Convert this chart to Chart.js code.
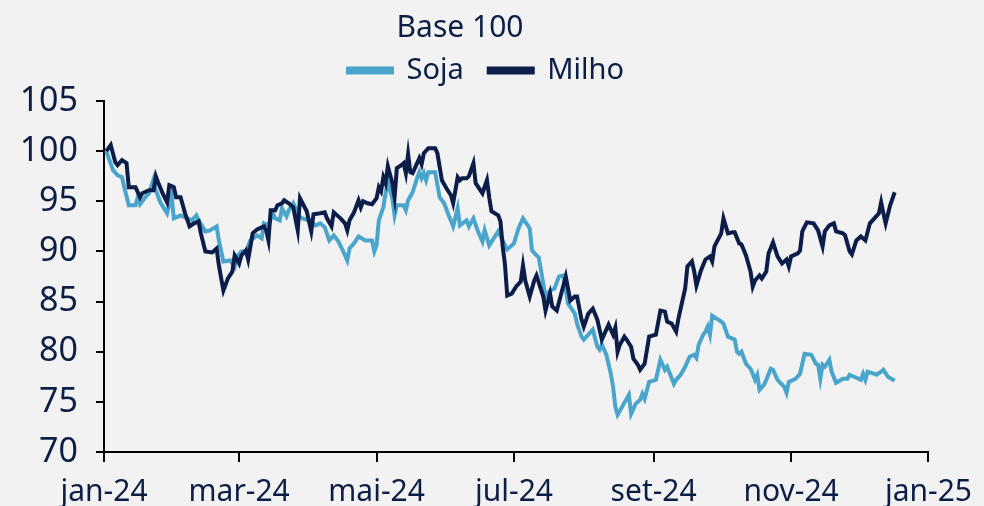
<!DOCTYPE html>
<html lang="pt-BR">
<head>
<meta charset="utf-8">
<script src="https://cdn.jsdelivr.net/npm/chart.js@4.4.1/dist/chart.umd.min.js"></script>
<style>
  html, body { margin: 0; padding: 0; background: #f2f2f2; }
  #caixa { width: 984px; height: 506px; }
</style>
</head>
<body>
<div id="caixa"><canvas id="grafico" width="984" height="506"></canvas></div>
<script>
// dias contados a partir de 01/01/2024
const tickDias = [0, 60, 121, 182, 244, 305, 366];
const tickRotulos = ['jan-24', 'mar-24', 'mai-24', 'jul-24', 'set-24', 'nov-24', 'jan-25'];

const sojaDias = [
  1, 4, 6, 8, 9, 11, 14, 15, 16, 18,
  20, 22, 23, 25, 28, 30, 31, 34, 37, 39,
  41, 42, 45, 47, 50, 51, 53, 56, 58, 59,
  61, 63, 65, 68, 70, 71, 73, 75, 76, 78,
  79, 81, 82, 84, 85, 86, 88, 91, 94, 96,
  98, 100, 102, 104, 106, 108, 109, 111, 113, 116,
  118, 119, 120, 121, 122, 124, 125, 126, 128, 129,
  130, 133, 134, 135, 137, 139, 140, 141, 142, 143,
  144, 147, 149, 151, 153, 155, 157, 158, 161, 162,
  164, 166, 168, 169, 171, 173, 175, 178, 179, 182,
  184, 186, 189, 190, 192, 193, 195, 196, 198, 200,
  202, 204, 206, 209, 210, 212, 213, 215, 217, 219,
  220, 221, 223, 225, 226, 227, 228, 230, 233, 234,
  236, 238, 239, 240, 242, 245, 247, 249, 250, 253,
  254, 256, 258, 260, 262, 263, 264, 266, 267, 268,
  269, 270, 272, 274, 275, 277, 280, 281, 282, 283,
  285, 287, 288, 289, 290, 291, 293, 294, 296, 297,
  299, 302, 303, 304, 307, 309, 311, 314, 316, 317,
  318, 319, 320, 322, 323, 325, 328, 330, 331, 333,
  336, 337, 338, 339, 342, 343, 345, 346, 348, 351
];
const sojaValores = [
  100.0, 98.1, 97.6, 97.4, 96.4, 94.6, 94.6, 95.4, 94.7, 95.3,
  95.8, 97.2, 96.1, 94.9, 93.8, 95.6, 93.3, 93.6, 93.3, 93.1,
  93.6, 93.1, 92.0, 92.1, 92.5, 91.1, 89.0, 89.1, 88.5, 89.5,
  90.0, 90.0, 91.1, 91.6, 91.3, 92.8, 92.6, 93.8, 93.3, 93.1,
  94.3, 93.5, 94.1, 94.8, 94.3, 93.6, 93.3, 93.1, 92.6, 92.8,
  92.4, 91.1, 91.6, 91.0, 90.1, 89.1, 90.3, 90.8, 91.5, 91.1,
  91.1, 91.1, 90.0, 90.6, 93.1, 94.4, 95.8, 96.9, 95.3, 93.6,
  94.6, 94.6, 94.1, 95.1, 95.9, 97.3, 97.9, 97.3, 97.8, 97.1,
  97.9, 97.9, 95.4, 94.8, 93.6, 92.5, 94.3, 92.6, 93.1, 92.5,
  93.3, 92.0, 91.0, 92.1, 90.6, 91.3, 92.0, 90.6, 90.2, 90.8,
  92.3, 93.3, 92.3, 90.1, 89.6, 89.4, 86.8, 85.5, 86.1, 86.3,
  87.5, 87.6, 84.8, 83.8, 82.8, 81.5, 81.2, 81.7, 82.2, 80.5,
  80.2, 80.7, 79.7, 77.8, 76.5, 74.5, 73.7, 74.5, 75.7, 73.8,
  74.8, 75.2, 75.8, 75.3, 77.0, 77.2, 79.2, 78.2, 78.5, 76.8,
  77.2, 77.7, 78.5, 79.5, 79.7, 79.4, 80.7, 81.7, 82.0, 82.5,
  81.7, 83.6, 83.3, 83.0, 82.8, 81.5, 81.2, 80.0, 79.8, 80.0,
  78.8, 78.3, 77.8, 77.2, 77.7, 76.2, 76.7, 77.2, 78.3, 78.2,
  77.2, 76.5, 75.9, 77.0, 77.3, 77.8, 79.8, 79.7, 78.8, 78.7,
  77.3, 78.7, 78.5, 79.2, 78.0, 76.9, 77.3, 77.3, 77.7, 77.5,
  77.2, 77.8, 77.2, 78.0, 77.8, 77.7, 78.0, 78.2, 77.5, 77.1
];

const milhoDias = [
  1, 3, 5, 6, 8, 10, 11, 14, 16, 17,
  20, 22, 23, 24, 26, 28, 29, 31, 32, 34,
  36, 38, 40, 42, 43, 45, 48, 50, 51, 53,
  55, 57, 58, 60, 61, 63, 64, 66, 68, 71,
  72, 73, 74, 76, 77, 79, 80, 82, 84, 86,
  87, 90, 92, 93, 96, 98, 99, 101, 102, 105,
  107, 108, 109, 111, 113, 114, 115, 117, 119, 121,
  122, 123, 124, 125, 126, 128, 129, 130, 132, 133,
  134, 135, 136, 137, 139, 140, 141, 142, 144, 147,
  148, 150, 152, 154, 155, 157, 158, 159, 161, 162,
  164, 165, 168, 170, 171, 172, 175, 176, 177, 178,
  179, 181, 183, 185, 186, 187, 189, 191, 192, 195,
  196, 198, 199, 201, 203, 205, 207, 209, 210, 212,
  213, 215, 217, 219, 221, 222, 224, 226, 227, 228,
  229, 231, 232, 234, 235, 237, 238, 240, 242, 245,
  247, 249, 250, 252, 254, 255, 258, 259, 261, 262,
  263, 265, 267, 269, 270, 271, 274, 275, 277, 279,
  280, 282, 283, 285, 286, 287, 288, 289, 291, 292,
  294, 295, 297, 299, 301, 303, 304, 305, 308, 309,
  310, 312, 315, 317, 319, 320, 322, 324, 325, 328,
  329, 331, 332, 334, 336, 338, 340, 342, 344, 345,
  346, 347, 349, 351
];
const milhoValores = [
  100.0, 100.6, 98.9, 98.6, 99.1, 98.8, 96.4, 96.4, 95.4, 95.8,
  96.1, 96.1, 97.5, 96.9, 95.8, 94.9, 96.6, 96.4, 95.4, 95.4,
  93.8, 92.5, 92.8, 93.0, 91.8, 90.0, 89.9, 90.3, 88.6, 86.1,
  87.3, 88.0, 89.6, 88.8, 89.6, 90.1, 89.2, 91.8, 92.2, 92.5,
  92.1, 91.1, 94.1, 94.1, 94.6, 94.8, 95.1, 94.8, 94.4, 92.1,
  95.3, 94.0, 92.0, 93.7, 93.8, 93.9, 93.3, 92.5, 93.9, 93.3,
  92.8, 92.1, 93.1, 93.9, 95.1, 94.4, 95.0, 94.8, 94.7, 95.3,
  96.4, 96.0, 97.4, 96.8, 98.5, 96.8, 95.4, 98.3, 98.6, 98.8,
  97.8, 99.7, 97.9, 97.8, 98.8, 99.3, 98.7, 99.8, 100.3, 100.3,
  99.8, 97.1, 96.3, 95.6, 94.8, 97.4, 97.1, 97.3, 97.3, 97.5,
  98.8, 96.8, 95.8, 97.1, 95.4, 94.0, 93.6, 93.0, 90.5, 88.7,
  85.6, 85.8, 86.5, 87.0, 88.6, 87.1, 85.5, 87.1, 87.6, 85.5,
  84.1, 85.8, 84.5, 84.1, 85.8, 87.5, 85.1, 85.5, 85.5, 83.2,
  82.5, 83.8, 84.3, 83.2, 81.2, 81.7, 82.7, 81.7, 82.4, 80.0,
  80.7, 81.5, 81.2, 80.5, 79.3, 78.7, 78.2, 78.8, 81.5, 81.7,
  84.1, 84.0, 83.0, 82.8, 82.0, 83.3, 86.3, 88.5, 89.0, 88.0,
  86.6, 88.1, 89.2, 89.5, 89.0, 90.5, 91.8, 93.3, 91.8, 91.9,
  91.9, 90.8, 90.7, 89.6, 88.8, 88.0, 86.5, 87.1, 87.6, 87.3,
  88.0, 89.8, 90.9, 89.5, 88.8, 89.2, 88.5, 89.5, 89.8, 90.1,
  92.0, 92.9, 92.8, 92.1, 90.5, 92.0, 92.6, 92.8, 92.0, 91.8,
  91.6, 90.0, 89.7, 91.1, 91.5, 91.1, 92.8, 93.3, 93.8, 94.9,
  93.8, 92.8, 94.6, 95.9
];

const corTexto = '#0d1e45';
const corSoja = '#4aa5cc';
const corMilho = '#0b1d48';
const familia = "'Noto Sans', sans-serif";

function pontos(dias, valores) {
  return dias.map((d, i) => ({ x: d, y: valores[i] }));
}

// ajusta a posicao da legenda e do subtitulo, como no original
const ajustaCabecalho = {
  id: 'ajustaCabecalho',
  afterLayout(chart) {
    const leg = chart.legend;
    if (leg) {
      leg.left += 21;
      leg.right += 21;
      leg.top -= 6;
      leg.bottom -= 6;
    }
    const tit = chart.titleBlock;
    if (tit) {
      tit.left -= 5;
      tit.right -= 5;
    }
  },
};

new Chart(document.getElementById('grafico'), {
  type: 'line',
  data: {
    datasets: [
      {
        label: 'Soja',
        data: pontos(sojaDias, sojaValores),
        borderColor: corSoja,
        backgroundColor: corSoja,
        borderWidth: 4,
        pointRadius: 0,
        tension: 0,
        order: 1,
      },
      {
        label: 'Milho',
        data: pontos(milhoDias, milhoValores),
        borderColor: corMilho,
        backgroundColor: corMilho,
        borderWidth: 4,
        pointRadius: 0,
        tension: 0,
        order: 0,
      },
    ],
  },
  plugins: [ajustaCabecalho],
  options: {
    responsive: false,
    animation: false,
    layout: { padding: { top: 0, right: 54, bottom: 0, left: 0 } },
    plugins: {
      tooltip: { enabled: false },
      title: {
        display: true,
        text: 'Base 100',
        color: corTexto,
        font: { family: familia, size: 30, weight: 'normal', lineHeight: 0.6 },
        padding: { top: 19, bottom: 0 },
      },
      legend: {
        display: true,
        labels: {
          color: corTexto,
          font: { family: familia, size: 29 },
          boxWidth: 44,
          boxHeight: 4,
          padding: 25,
          sort: (a, b) => a.datasetIndex - b.datasetIndex,
        },
      },
    },
    scales: {
      x: {
        type: 'linear',
        min: 0,
        max: 366,
        afterBuildTicks: eixo => {
          eixo.ticks = tickDias.map(v => ({ value: v }));
        },
        afterFit: eixo => { eixo.height = 54; },
        ticks: {
          callback: v => tickRotulos[tickDias.indexOf(v)],
          color: corTexto,
          font: { family: familia, size: 30 },
          padding: 12,
          maxRotation: 0,
          autoSkip: false,
        },
        grid: { display: true, drawOnChartArea: false, tickLength: 10, color: '#000', lineWidth: 2 },
        border: { display: true, color: '#000', width: 2 },
      },
      y: {
        min: 70,
        max: 105,
        afterFit: eixo => { eixo.width = 104; },
        ticks: { stepSize: 5, color: corTexto, font: { family: familia, size: 34 }, padding: 18 },
        grid: { display: true, drawOnChartArea: false, tickLength: 8, color: '#000', lineWidth: 2 },
        border: { display: true, color: '#000', width: 2 },
      },
    },
  },
});
</script>
</body>
</html>
